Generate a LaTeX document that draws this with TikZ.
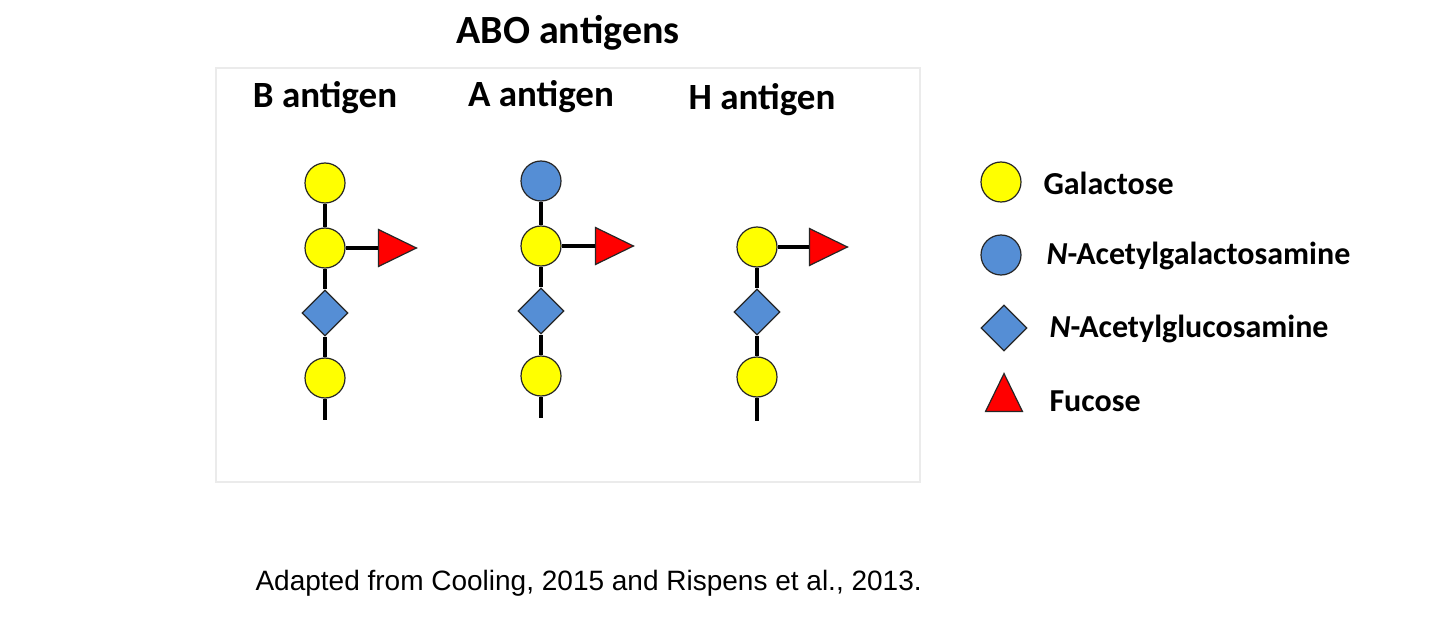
\documentclass[tikz,border=0pt]{standalone}
\usepackage{fontspec}
\setmainfont{Carlito}
\newfontfamily\arialfont{Liberation Sans}
\usepackage{tikz}
\usetikzlibrary{shapes.geometric}

\definecolor{galyellow}{RGB}{255,255,0}
\definecolor{nacblue}{RGB}{85,142,213}
\definecolor{fucred}{RGB}{255,0,0}

\begin{document}
\begin{tikzpicture}[x=1pt,y=-1pt,node distance=65pt,
                    link/.style={line width=3.5pt,black},
                    sugar/.style={draw=black!85,line width=1.2pt,inner sep=0pt},
                    gal/.style={sugar,circle,fill=galyellow,minimum size=40pt},
                    galnac/.style={sugar,circle,fill=nacblue,minimum size=40pt},
                    glcnac/.style={sugar,diamond,fill=nacblue,minimum width=46pt,minimum height=46pt},
                    fuc/.style={sugar,isosceles triangle,isosceles triangle stretches,
                                fill=fucred,minimum width=37pt,minimum height=38pt},
                    head/.style={font=\bfseries\fontsize{37}{40}\selectfont},
                    legtext/.style={font=\bfseries\fontsize{32}{36}\selectfont,anchor=west}]

  \useasboundingbox (0,0) rectangle (1434,620);
  \draw[black!8,line width=1.5pt] (216,68) rectangle (920,482);

  \node[font=\bfseries\fontsize{40}{44}\selectfont] (title) at (568,33) {ABO antigens};
  \node[head] (hb) at (325,98)  {B antigen};
  \node[head] (ha) at (541,97)  {A antigen};
  \node[head] (hh) at (762,100) {H antigen};

  % B antigen
  \node[gal]    (b1) at (325,183) {};
  \node[gal]    (b2) [below of=b1] {};
  \node[glcnac] (b3) [below of=b2] {};
  \node[gal]    (b4) [below of=b3] {};
  \node[fuc]    (bf) [right of=b2,node distance=65pt] {};
  \coordinate   (b0) at (325,420);

  % A antigen
  \node[galnac] (a1) at (541,181) {};
  \node[gal]    (a2) [below of=a1] {};
  \node[glcnac] (a3) [below of=a2] {};
  \node[gal]    (a4) [below of=a3] {};
  \node[fuc]    (af) [right of=a2,node distance=66pt] {};
  \coordinate   (a0) at (541,418);

  % H antigen
  \node[gal]    (h2) at (757,247) {};
  \node[glcnac] (h3) [below of=h2] {};
  \node[gal]    (h4) [below of=h3] {};
  \node[fuc]    (hf) [right of=h2,node distance=64pt] {};
  \coordinate   (h0) at (757,421);

  \draw[link] (b1) -- (b2);
  \draw[link] (b2) -- (b3);
  \draw[link] (b3) -- (b4);
  \draw[link] (b4) -- (b0);
  \draw[link] (b2) -- (bf);
  \draw[link] (a1) -- (a2);
  \draw[link] (a2) -- (a3);
  \draw[link] (a3) -- (a4);
  \draw[link] (a4) -- (a0);
  \draw[link] (a2) -- (af);
  \draw[link] (h2) -- (h3);
  \draw[link] (h3) -- (h4);
  \draw[link] (h4) -- (h0);
  \draw[link] (h2) -- (hf);

  % legend
  \node[gal]    (lgal) at (1001,182) {};
  \node[galnac] (lnac) at (1001,255) {};
  \node[glcnac] (lglc) at (1004,328) {};
  \node[fuc,shape border rotate=90] (lfuc) at (1004,400) {};
  \node[legtext] (tgal) at (1040,183) {Galactose};
  \node[legtext] (tnac) at (1043,256) {\textit{N}-Acetylgalactosamine};
  \node[legtext] (tglc) at (1046,329) {\textit{N}-Acetylglucosamine};
  \node[legtext] (tfuc) at (1046,401) {Fucose};

  \node[anchor=west,font=\arialfont\fontsize{28}{32}\selectfont] (src) at (252,583)
    {Adapted from Cooling, 2015 and Rispens et al., 2013.};
\end{tikzpicture}
\end{document}
